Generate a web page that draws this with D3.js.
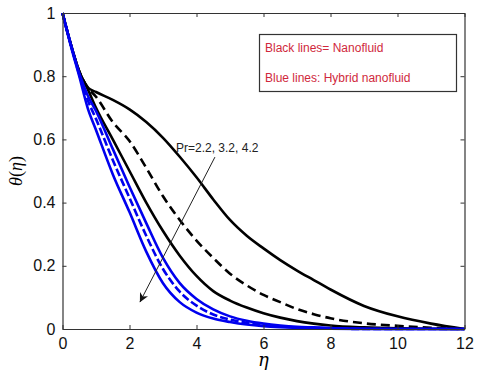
<!DOCTYPE html>
<html>
<head>
<meta charset="utf-8">
<script src="https://cdn.jsdelivr.net/npm/d3@7"></script>
<style>
  html, body { margin: 0; padding: 0; background: #fff; overflow: hidden; }
  svg { display: block; }
</style>
</head>
<body>
<svg id="mysvg" width="480" height="374"></svg>
<script>
// eta grid shared by every curve
const eta = [0, 0.25, 0.5, 0.75, 1, 1.5, 2, 2.5, 3, 3.5, 4, 4.5, 5, 5.5, 6, 6.5, 7, 7.5, 8, 9, 10, 11, 12];

// black lines = nanofluid (Pr = 2.2, 3.2, 4.2)
const nanoPr22 = [1, 0.9, 0.815, 0.765, 0.75, 0.725, 0.695, 0.655, 0.605, 0.545, 0.48, 0.41, 0.345, 0.295, 0.255, 0.218, 0.185, 0.155, 0.125, 0.073, 0.04, 0.017, 0];
const nanoPr32 = [1, 0.9, 0.815, 0.765, 0.735, 0.655, 0.595, 0.51, 0.42, 0.345, 0.28, 0.225, 0.175, 0.138, 0.108, 0.085, 0.063, 0.047, 0.034, 0.018, 0.01, 0.004, 0];
const nanoPr42 = [1, 0.9, 0.815, 0.76, 0.70, 0.60, 0.50, 0.40, 0.31, 0.232, 0.168, 0.12, 0.09, 0.068, 0.05, 0.036, 0.025, 0.017, 0.011, 0.005, 0.002, 0.001, 0];

// blue lines = hybrid nanofluid
const hybPr22 = [1, 0.9, 0.81, 0.74, 0.69, 0.57, 0.45, 0.335, 0.225, 0.145, 0.095, 0.062, 0.04, 0.026, 0.017, 0.011, 0.007, 0.005, 0.003, 0.001, 0, 0, 0];
const hybPr32 = [1, 0.9, 0.805, 0.725, 0.665, 0.535, 0.415, 0.295, 0.19, 0.118, 0.074, 0.046, 0.03, 0.02, 0.013, 0.008, 0.005, 0.003, 0.002, 0, 0, 0, 0];
const hybPr42 = [1, 0.895, 0.80, 0.70, 0.63, 0.49, 0.37, 0.245, 0.145, 0.085, 0.052, 0.033, 0.022, 0.014, 0.009, 0.006, 0.004, 0.002, 0.001, 0, 0, 0, 0];

const xTicks = [0, 2, 4, 6, 8, 10, 12];
const yTicks = [0, 0.2, 0.4, 0.6, 0.8, 1];
const legendLines = ["Black lines= Nanofluid", "Blue lines: Hybrid nanofluid"];
const noteText = "Pr=2.2, 3.2, 4.2";
const arrowFrom = [4.55, 0.544];
const arrowTo = [2.31, 0.085];

const margin = { top: 13, right: 15.5, bottom: 45, left: 62.5 },
  width = 480,
  height = 374,
  innerWidth = width - margin.left - margin.right,
  innerHeight = height - margin.top - margin.bottom;

const svg = d3.select("#mysvg")
  .attr("width", width)
  .attr("height", height);

svg.append("defs").append("marker")
  .attr("id", "arrowhead")
  .attr("viewBox", "0 0 10 10")
  .attr("refX", 10).attr("refY", 5)
  .attr("markerWidth", 9).attr("markerHeight", 9)
  .attr("markerUnits", "userSpaceOnUse")
  .attr("orient", "auto")
  .append("path")
  .attr("d", "M0,0 L10,5 L0,10 L3,5 Z")
  .attr("fill", "#111");

const g = svg.append("g")
  .attr("transform", `translate(${margin.left},${margin.top})`);

const x_Scale = d3.scaleLinear().domain([0, 12]).range([0, innerWidth]);
const y_Scale = d3.scaleLinear().domain([0, 1]).range([innerHeight, 0]);

const line = d3.line()
  .x((d, i) => x_Scale(eta[i]))
  .y((d) => y_Scale(d))
  .curve(d3.curveMonotoneX);

const series = [
  { vals: nanoPr22, color: "#000", dash: null },
  { vals: nanoPr32, color: "#000", dash: "9,5" },
  { vals: nanoPr42, color: "#000", dash: null },
  { vals: hybPr22, color: "#0000ee", dash: null },
  { vals: hybPr42, color: "#0000ee", dash: null },
  { vals: hybPr32, color: "#0000ee", dash: "8,3" }
];

g.append("g")
  .selectAll(".curve")
  .data(series)
  .join("path")
  .attr("class", "curve")
  .attr("d", (d) => line(d.vals))
  .attr("fill", "none")
  .attr("stroke", (d) => d.color)
  .attr("stroke-width", 2.6)
  .attr("stroke-dasharray", (d) => d.dash);

// axes, MATLAB style: inward ticks on all four sides
const axisFont = "'Liberation Sans', Arial, sans-serif";

const xBottom = g.append("g")
  .attr("transform", `translate(0,${innerHeight})`)
  .call(d3.axisBottom(x_Scale).tickValues(xTicks).tickSize(-4).tickPadding(9).tickSizeOuter(0));
const yLeft = g.append("g")
  .call(d3.axisLeft(y_Scale).tickValues(yTicks).tickSize(-4).tickPadding(7).tickSizeOuter(0)
    .tickFormat((d) => (d === 0 || d === 1) ? d3.format("d")(d) : d3.format(".1f")(d)));
const xTop = g.append("g")
  .call(d3.axisTop(x_Scale).tickValues(xTicks).tickSize(-4).tickSizeOuter(0));
const yRight = g.append("g")
  .attr("transform", `translate(${innerWidth},0)`)
  .call(d3.axisRight(y_Scale).tickValues(yTicks).tickSize(-4).tickSizeOuter(0));

// top and right axes carry ticks only
xTop.selectAll("text").remove();
yRight.selectAll("text").remove();

[xBottom, yLeft, xTop, yRight].forEach((a) => {
  a.selectAll("path").attr("stroke", "#333").attr("stroke-width", 1.2);
  a.selectAll("line").attr("stroke", "#333");
  a.selectAll("text")
    .attr("fill", "#111")
    .style("font-family", axisFont)
    .style("font-size", "16px");
});

// axis labels
svg.append("text")
  .attr("x", margin.left + x_Scale(6))
  .attr("y", 366)
  .attr("text-anchor", "middle")
  .style("font-family", "'DejaVu Serif', 'Liberation Serif', serif")
  .style("font-style", "italic")
  .style("font-size", "18px")
  .text("η");

const yl = svg.append("text")
  .attr("transform", `translate(22,${margin.top + y_Scale(0.5)}) rotate(-90)`)
  .attr("text-anchor", "middle")
  .style("font-family", "'Liberation Serif', serif")
  .style("font-size", "18px");
yl.append("tspan").style("font-style", "italic").text("θ");
yl.append("tspan").text("(");
yl.append("tspan").style("font-style", "italic").text("η");
yl.append("tspan").text(")");

// legend box
svg.append("rect")
  .attr("x", 259.5).attr("y", 34.5)
  .attr("width", 197).attr("height", 57)
  .attr("fill", "#fff")
  .attr("stroke", "#333")
  .attr("stroke-width", 1.2);

svg.selectAll(".legendText")
  .data(legendLines)
  .join("text")
  .attr("class", "legendText")
  .attr("x", 265)
  .attr("y", (d, i) => 52 + i * 30)
  .attr("fill", "#d0283c")
  .style("font-family", axisFont)
  .style("font-size", "12px")
  .text((d) => d);

// Pr annotation with arrow
svg.append("text")
  .attr("x", 176)
  .attr("y", 152)
  .attr("fill", "#222")
  .style("font-family", axisFont)
  .style("font-size", "12px")
  .text(noteText);

g.append("line")
  .attr("x1", x_Scale(arrowFrom[0])).attr("y1", y_Scale(arrowFrom[1]))
  .attr("x2", x_Scale(arrowTo[0])).attr("y2", y_Scale(arrowTo[1]))
  .attr("stroke", "#222")
  .attr("stroke-width", 1)
  .attr("marker-end", "url(#arrowhead)");
</script>
</body>
</html>
